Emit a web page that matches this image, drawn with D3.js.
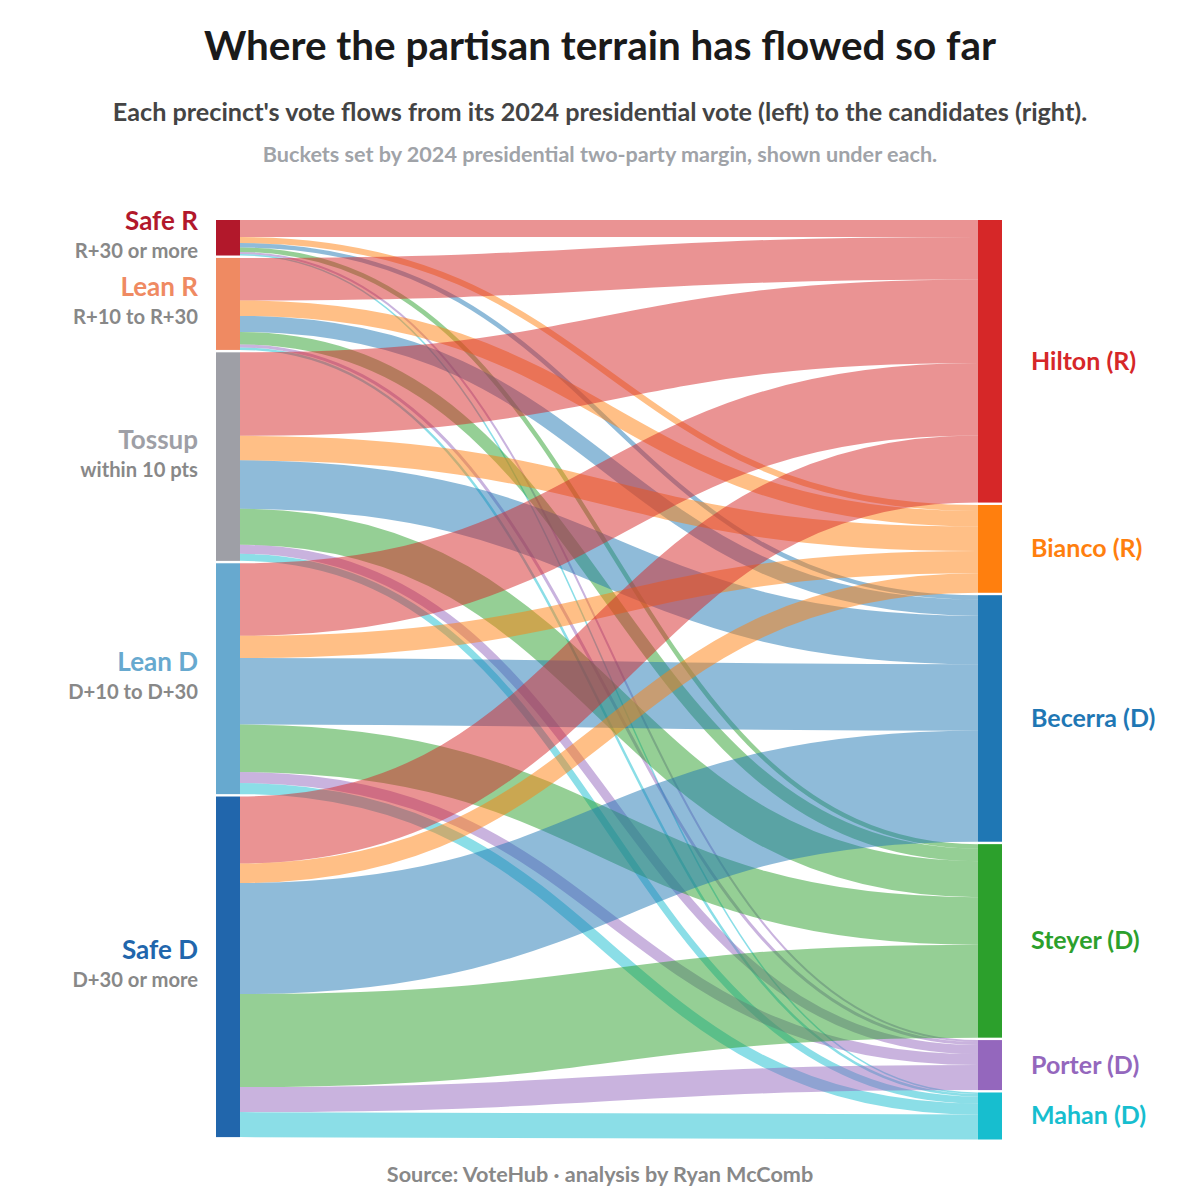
<!DOCTYPE html>
<html><head><meta charset="utf-8">
<script src="https://cdn.jsdelivr.net/npm/d3@7"></script>
<style>
body{margin:0;background:#fff}
text{font-family:Lato,"Noto Sans",sans-serif;font-weight:700}
</style>
</head><body>
<svg id="chart" width="1200" height="1200"></svg>
<script>
// ---- data (relative vote volume) ----
const sources = ["Safe R", "Lean R", "Tossup", "Lean D", "Safe D"];
const sourceRanges = ["R+30 or more", "R+10 to R+30", "within 10 pts", "D+10 to D+30", "D+30 or more"];
const sourceColors = ["#b2182b", "#ef8a62", "#9e9fa6", "#67a9cf", "#2166ac"];
const candidates = ["Hilton (R)", "Bianco (R)", "Becerra (D)", "Steyer (D)", "Porter (D)", "Mahan (D)"];
const candidateColors = ["#d62728", "#ff7f0e", "#1f77b4", "#2ca02c", "#9467bd", "#17becf"];
// flows from each bucket to Hilton, Bianco, Becerra, Steyer, Porter, Mahan
const flowSafeR  = [17,   6,    4.5,  4.5, 2,  1.5];
const flowLeanR  = [42.5, 15.5, 16,   12.5, 3, 2.5];
const flowTossup = [83.5, 24.5, 48.5, 36,   9, 7];
const flowLeanD  = [72.5, 22.3, 66.5, 47.5, 11, 11];
const flowSafeD  = [67,   19.5, 111,  93,   25, 25];
const flows = [flowSafeR, flowLeanR, flowTossup, flowLeanD, flowSafeD];

const titleText = "Where the partisan terrain has flowed so far";
const subtitleText = "Each precinct's vote flows from its 2024 presidential vote (left) to the candidates (right).";
const noteText = "Buckets set by 2024 presidential two-party margin, shown under each.";
const sourceText = "Source: VoteHub · analysis by Ryan McComb";

// ---- layout ----
const svg = d3.select("#chart");
const yTop = 220, yBottom = 1139.5, pad = 2.4, nodeW = 24;
const total = d3.sum(flows.flat());
const maxNodes = Math.max(sources.length, candidates.length);
const k = d3.scaleLinear().domain([0, total]).range([0, (yBottom - yTop) - (maxNodes - 1) * pad]);
const xCol = d3.scalePoint().domain(["left", "right"]).range([216, 978]);

const leftNodes = [];
let y = yTop;
sources.forEach((s, i) => {
  const v = d3.sum(flows[i]);
  leftNodes.push({name: s, sub: sourceRanges[i], color: sourceColors[i], x0: xCol("left"), y0: y, y1: y + k(v)});
  y += k(v) + pad;
});
const rightNodes = [];
y = yTop;
candidates.forEach((c, j) => {
  const v = d3.sum(flows, f => f[j]);
  rightNodes.push({name: c, color: candidateColors[j], x0: xCol("right"), y0: y, y1: y + k(v)});
  y += k(v) + pad;
});

const links = [];
const srcOff = leftNodes.map(n => n.y0);
const tgtOff = rightNodes.map(n => n.y0);
sources.forEach((s, i) => {
  candidates.forEach((c, j) => {
    const w = k(flows[i][j]);
    links.push({
      sx: leftNodes[i].x0 + nodeW, sy: srcOff[i] + w / 2,
      tx: rightNodes[j].x0, ty: tgtOff[j] + w / 2,
      width: w, color: candidateColors[j]
    });
    srcOff[i] += w;
    tgtOff[j] += w;
  });
});

const linkGen = d3.linkHorizontal().source(d => [d.sx, d.sy]).target(d => [d.tx, d.ty]);
svg.append("g").attr("fill", "none")
  .selectAll("path").data(links).join("path")
  .attr("d", linkGen)
  .attr("stroke", d => d.color)
  .attr("stroke-opacity", 0.5)
  .attr("stroke-width", d => Math.max(0.5, d.width));

svg.append("g").selectAll("rect").data(leftNodes.concat(rightNodes)).join("rect")
  .attr("x", d => d.x0).attr("y", d => d.y0)
  .attr("width", nodeW).attr("height", d => d.y1 - d.y0)
  .attr("fill", d => d.color);

// left labels
const lg = svg.append("g");
leftNodes.forEach(n => {
  const cy = (n.y0 + n.y1) / 2;
  lg.append("text").attr("x", 198).attr("y", cy - 8).attr("text-anchor", "end")
    .attr("font-size", 26).attr("fill", n.color).text(n.name);
  lg.append("text").attr("x", 198).attr("y", cy + 20).attr("text-anchor", "end")
    .attr("font-size", 20.2).attr("fill", "#888").text(n.sub);
});
// right labels
rightNodes.forEach(n => {
  const cy = (n.y0 + n.y1) / 2;
  svg.append("text").attr("x", 1031).attr("y", cy + 8.5).attr("font-size", 25)
    .attr("fill", n.color).text(n.name);
});

// titles
svg.append("text").attr("x", 600).attr("y", 60).attr("text-anchor", "middle")
  .attr("font-size", 40.4).attr("fill", "#1a1a1a").text(titleText);
svg.append("text").attr("x", 600).attr("y", 121).attr("text-anchor", "middle")
  .attr("font-size", 25.2).attr("fill", "#444").text(subtitleText);
svg.append("text").attr("x", 600).attr("y", 162).attr("text-anchor", "middle")
  .attr("font-size", 21.6).attr("fill", "#a0a3a8").text(noteText);
svg.append("text").attr("x", 600).attr("y", 1182).attr("text-anchor", "middle")
  .attr("font-size", 21.6).attr("fill", "#888").text(sourceText);
</script>
</body></html>
